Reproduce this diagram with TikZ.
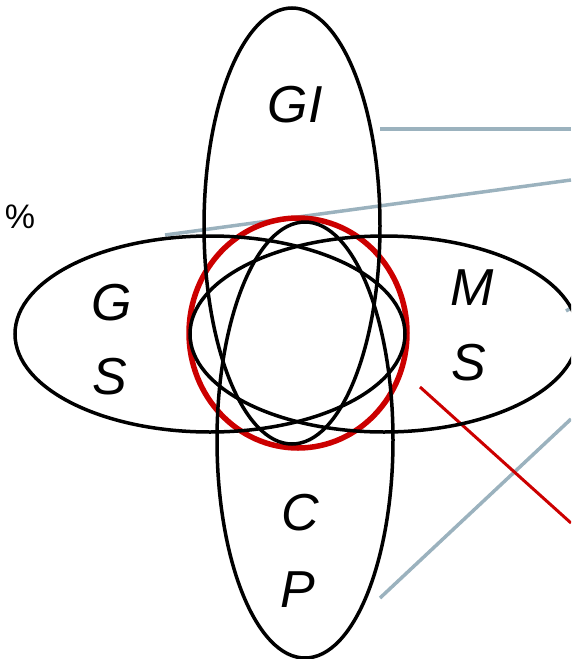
\documentclass[tikz,border=0pt]{standalone}
\usepackage{fontspec}
\setsansfont{Liberation Sans}
\definecolor{callgrey}{RGB}{155,178,190}
\definecolor{callred}{RGB}{204,0,0}
\tikzset{VDset/.style={draw=black,line width=3.5pt},
         VDring/.style={draw=callred,line width=5.5pt},
         VDlab/.style={font=\sffamily\itshape\fontsize{52}{60}\selectfont,anchor=base,inner sep=0pt},
         VDgrey/.style={draw=callgrey,line width=3.5pt},
         VDred/.style={draw=callred,line width=3pt}}

\begin{document}
\begin{tikzpicture}[x=1pt,y=-1pt]
    \clip (0,0) rectangle (571,659);
    % callout lines, running off the right edge
    \foreach \n/\ax/\ay/\bx/\by in {a/380/129/571/129,b/165/235/571/180,c/566/311/571/308,d/380/598/571/419}
      {\coordinate (gs\n) at (\ax,\ay); \coordinate (ge\n) at (\bx,\by); \draw[VDgrey] (gs\n)--(ge\n);}
    \coordinate (rs) at (420,387); \coordinate (re) at (571,523);
    \draw[VDred] (rs)--(re);
    % sets
    \draw[VDring] (298,333) ellipse [x radius=109,y radius=115];
    \foreach \cx/\cy/\rx/\ry in {292/226/88/218,305/440/88/218,210/334/195/98,384/334/194/98}
      \draw[VDset] (\cx,\cy) ellipse [x radius=\rx,y radius=\ry];
    \node[VDlab] (gi) at (295,122) {GI};
    \node[VDlab] (gs1) at (112,320) {G}; \node[VDlab] (gs2) at (110,394) {S};
    \node[VDlab] (ms1) at (472,305) {M}; \node[VDlab] (ms2) at (469,380) {S};
    \node[VDlab] (cp1) at (300,530) {C}; \node[VDlab] (cp2) at (298,607) {P};
    \node[font=\sffamily\fontsize{34}{38}\selectfont,inner sep=0pt] (pct) at (20,217) {\%};
  \end{tikzpicture}
\end{document}
